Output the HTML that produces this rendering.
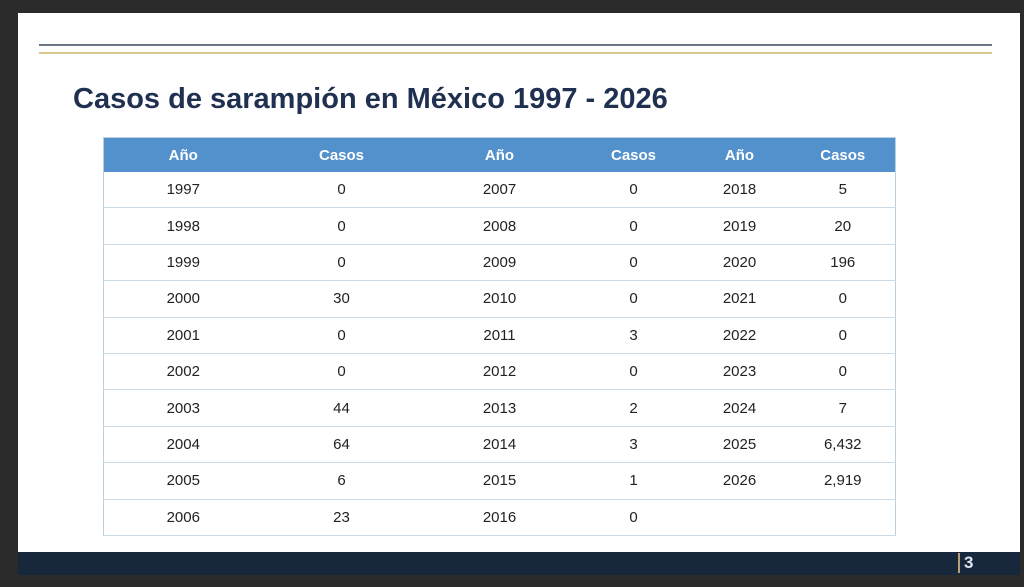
<!DOCTYPE html><html><head><style>
body{margin:0;width:1024px;height:587px;background:#2b2b2b;position:relative;overflow:hidden;font-family:"Liberation Sans",sans-serif}
.slide{position:absolute;left:18px;top:13px;width:1002px;height:539px;background:#fff}
.bar{position:absolute;left:18px;top:552px;width:1002px;height:23px;background:#17283c}
.l1{position:absolute;left:39px;top:44px;width:953px;height:2px;background:#6c7784}
.l2{position:absolute;left:39px;top:52px;width:953px;height:2px;background:#d9c98e}
h1{position:absolute;left:73px;top:83px;margin:0;font-size:29px;font-weight:bold;color:#1f3050}
table{position:absolute;left:103px;top:137px;border-collapse:collapse;font-size:15px;color:#222}
td,th{text-align:center;border-bottom:1px solid #c9dcea;height:35.4px;padding:0}
th{background:#5291cc;color:#fff;font-weight:bold;height:34px;border:none}
table{border:1px solid #b9cfe0}
.pn{position:absolute;left:958px;top:553px;color:#dfe6ee;font-weight:bold;font-size:17px;border-left:2px solid #b9a07a;padding-left:4px;line-height:20px}
</style></head><body>
<div class="slide"></div><div class="l1"></div><div class="l2"></div>
<h1>Casos de sarampión en México 1997 - 2026</h1>
<table>
<colgroup><col style="width:159px"><col style="width:158px"><col style="width:158px"><col style="width:110px"><col style="width:102px"><col style="width:105px"></colgroup>
<tr><th>Año</th><th>Casos</th><th>Año</th><th>Casos</th><th>Año</th><th>Casos</th></tr>
<tr><td>1997</td><td>0</td><td>2007</td><td>0</td><td>2018</td><td>5</td></tr>
<tr><td>1998</td><td>0</td><td>2008</td><td>0</td><td>2019</td><td>20</td></tr>
<tr><td>1999</td><td>0</td><td>2009</td><td>0</td><td>2020</td><td>196</td></tr>
<tr><td>2000</td><td>30</td><td>2010</td><td>0</td><td>2021</td><td>0</td></tr>
<tr><td>2001</td><td>0</td><td>2011</td><td>3</td><td>2022</td><td>0</td></tr>
<tr><td>2002</td><td>0</td><td>2012</td><td>0</td><td>2023</td><td>0</td></tr>
<tr><td>2003</td><td>44</td><td>2013</td><td>2</td><td>2024</td><td>7</td></tr>
<tr><td>2004</td><td>64</td><td>2014</td><td>3</td><td>2025</td><td>6,432</td></tr>
<tr><td>2005</td><td>6</td><td>2015</td><td>1</td><td>2026</td><td>2,919</td></tr>
<tr><td>2006</td><td>23</td><td>2016</td><td>0</td><td></td><td></td></tr>
</table>
<div class="bar"></div><div class="pn">3</div>
</body></html>
